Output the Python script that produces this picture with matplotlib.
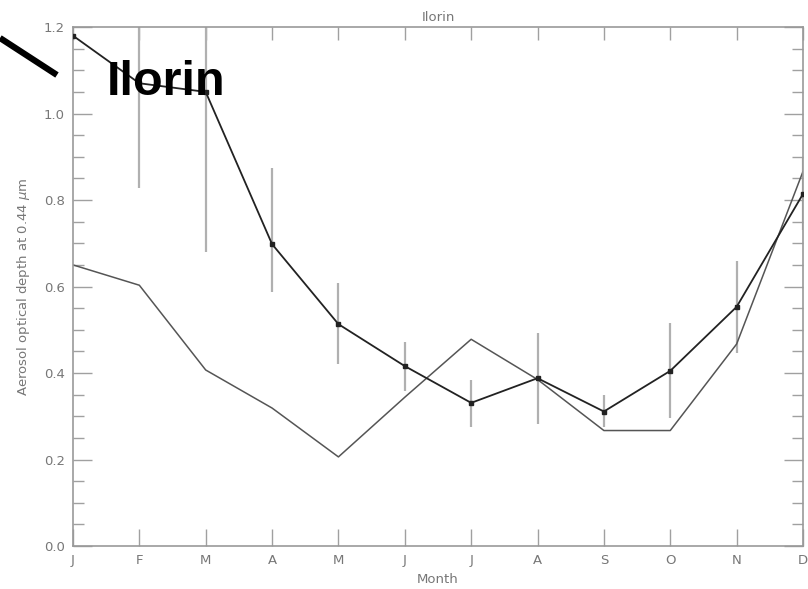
import numpy as np
import matplotlib.pyplot as plt
from matplotlib.lines import Line2D

# monthly aerosol optical depth at Ilorin
months = ["J", "F", "M", "A", "M", "J", "J", "A", "S", "O", "N", "D"]
aod_obs = [1.18, 1.07, 1.05, 0.698, 0.513, 0.416, 0.331, 0.388, 0.311, 0.405, 0.553, 0.814]
aod_lo = [1.18, 0.828, 0.68, 0.588, 0.421, 0.359, 0.276, 0.282, 0.275, 0.295, 0.447, 0.731]
aod_hi = [1.18, 1.35, 1.35, 0.874, 0.607, 0.472, 0.385, 0.492, 0.349, 0.515, 0.659, 0.897]
aod_model = [0.65, 0.603, 0.407, 0.319, 0.206, 0.344, 0.478, 0.385, 0.267, 0.267, 0.467, 0.866]

txt = "#777777"
tick_col = "#a0a0a0"
plt.rcParams["font.family"] = ["DejaVu Sans"]

fig = plt.figure(figsize=(8.08, 5.89), dpi=100)
ax = fig.add_axes([0.0903, 0.0730, 0.9035, 0.8811])

x = np.arange(len(months))

# error bars
ax.vlines(x, aod_lo, aod_hi, color="#b0b0b0", lw=1.6, zorder=1)
ax.plot(x, aod_model, color="#555555", lw=1.1, zorder=2)
ax.plot(x, aod_obs, color="#222222", lw=1.3, marker="s", ms=3.2, zorder=3)

ax.set_xlim(0, 11)
ax.set_ylim(0, 1.2)
ax.set_xticks(x)
ax.set_xticklabels(months)
yt = np.arange(0, 1.21, 0.2)
ax.set_yticks(yt)
ax.set_yticklabels([f"{v:.1f}" for v in yt])
ax.set_yticks(np.arange(0, 1.201, 0.05), minor=True)

ax.tick_params(axis="x", which="major", direction="in", length=12, width=1,
               color=tick_col, labelcolor=txt, labelsize=9.5, pad=6)
ax.tick_params(axis="y", which="major", direction="in", length=14, width=1,
               color=tick_col, labelcolor=txt, labelsize=9.5, right=True, pad=6)
ax.tick_params(axis="y", which="minor", direction="in", length=8, width=1,
               color=tick_col, right=True)

# short ticks along the top edge
top = ax.secondary_xaxis("top")
top.set_xticks(x)
top.tick_params(direction="in", length=9, width=1, color=tick_col, labeltop=False)
top.spines["top"].set_visible(False)

for s in ax.spines.values():
    s.set_color("#999999")
    s.set_linewidth(1.2)

ax.set_xlabel("Month", color=txt, fontsize=9.5, labelpad=4)
ax.set_ylabel("Aerosol optical depth at 0.44 $\\mu$m", color=txt, fontsize=9.5, labelpad=8)
ax.set_title("Ilorin", color=txt, fontsize=9.5, pad=4)

# site label and pointer
fig.text(0.132, 0.838, "Ilorin", fontsize=35, fontweight="bold",
         family=["Liberation Sans", "DejaVu Sans"], color="black")
fig.add_artist(Line2D([0.0, 0.0705], [1 - 38 / 589, 1 - 75 / 589],
                      color="black", lw=4.5, solid_capstyle="butt"))

fig.savefig("out.png", dpi=100)
